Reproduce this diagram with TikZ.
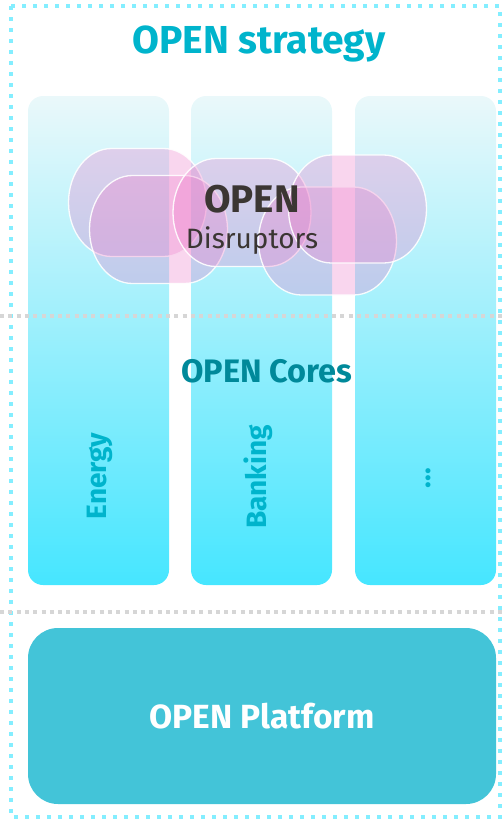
\documentclass[tikz,border=0pt]{standalone}
\usepackage{fontspec}
\setmainfont{Fira Sans}
\usetikzlibrary{positioning}

\definecolor{dotcyan}{HTML}{84EEFF}
\definecolor{dotgray}{HTML}{D6D6D6}
\definecolor{coltop}{HTML}{EAF8FA}
\definecolor{colbot}{HTML}{46E6FF}
\definecolor{titlecyan}{HTML}{00B4CC}
\definecolor{coreteal}{HTML}{00899A}
\definecolor{platfill}{HTML}{43C4D8}
\definecolor{blobpink}{HTML}{EC78C8}
\definecolor{darktext}{HTML}{3B3633}

% blob outline: two half ellipses joined by flat top and bottom
\newcommand\blobshape[1]{%
  ($(#1)+(-26,-54)$) -- ($(#1)+(26,-54)$)
  arc[start angle=-90, end angle=90, x radius=43, y radius=54]
  -- ($(#1)+(-26,54)$)
  arc[start angle=90, end angle=270, x radius=43, y radius=54] -- cycle}

\usetikzlibrary{calc}

\begin{document}
\begin{tikzpicture}[x=1pt, y=-1pt,
    column/.style={rectangle, rounded corners=15pt, draw=none,
                   top color=coltop, bottom color=colbot,
                   minimum width=141pt, minimum height=489pt, inner sep=0pt},
    blob/.style={draw=white, line width=1.3pt,
                 fill=blobpink, fill opacity=0.3, draw opacity=0.9},
    sector/.style={rotate=90, text=titlecyan, font=\fontsize{28}{28}\selectfont\bfseries},
    border/.style={draw=dotcyan, line width=4pt, dash pattern=on 4pt off 7pt},
    divider/.style={draw=dotgray, line width=3.5pt, dash pattern=on 4pt off 4.3pt},
  ]
  \useasboundingbox (0,0) rectangle (502,820);

  % ---- outer frame ----------------------------------------------
  \draw[border] (11,6) rectangle (500,817);

  % ---- columns --------------------------------------------------
  \node[column] (energy) at (98.5,340.5) {};
  \node[column] (banking) at (261.5,340.5) {};
  \node[column] (more) at (425.5,340.5) {};

  % ---- disruptor blobs ------------------------------------------
  \coordinate (b1) at (137.5,202.5);
  \coordinate (b2) at (158.5,229.5);
  \coordinate (b3) at (242,212.5);
  \coordinate (b4) at (327.5,241);
  \coordinate (b5) at (357.5,209);
  \foreach \b in {b1,b2,b3,b4,b5}
    \path[blob] \blobshape{\b};

  % ---- dividers -------------------------------------------------
  \draw[divider] (0,316) -- (502,316);
  \draw[divider] (0,612) -- (502,612);

  % ---- platform -------------------------------------------------
  \node[rectangle, rounded corners=30pt, fill=platfill, minimum width=468pt,
        minimum height=176pt, inner sep=0pt] (platform) at (262,716) {};
  \node[text=white, font=\fontsize{33.5}{33.5}\selectfont\bfseries,
        anchor=base, inner sep=0pt] (plattext) at (262,728) {OPEN Platform};

  % ---- labels ---------------------------------------------------
  \node[text=titlecyan, font=\fontsize{39}{39}\selectfont\bfseries,
        anchor=base, inner sep=0pt] (title) at (259,53) {OPEN strategy};
  \node[text=darktext, font=\fontsize{38.5}{38.5}\selectfont\bfseries,
        anchor=base, inner sep=0pt] (open) at (252,212) {OPEN};
  \node[text=darktext, font=\fontsize{28}{28}\selectfont,
        anchor=base, inner sep=0pt] (disr) at (252,248) {Disruptors};
  \node[text=coreteal, font=\fontsize{32.5}{32.5}\selectfont\bfseries,
        anchor=base, inner sep=0pt] (cores) at (267,382) {OPEN Cores};
  \node[sector] (lbl1) at (100,476) {Energy};
  \node[sector] (lbl2) at (258,477) {Banking};
  \node[sector] (lbl3) at (428,478) {...};

\end{tikzpicture}
\end{document}
